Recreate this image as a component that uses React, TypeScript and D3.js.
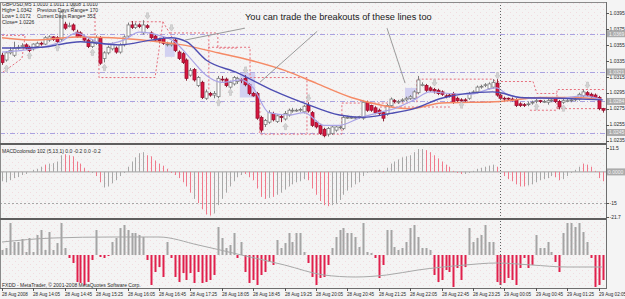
import React from 'react'
import * as d3 from 'd3'

const W = 625
const H = 299

// candles in pips above 1.0000 : [open, high, low, close]
const candles: number[][] = [
  [342,345,330,333],[336,347,334,345],[345,352,343,348],[342,359,340,351],[351,355,349,352],
  [353,357,351,354],[355,357,349,351],[352,354,346,348],[350,357,348,356],[353,359,351,357],
  [357,359,354,356],[356,366,355,364],[361,367,359,365],[365,366,360,362],[364,366,357,359],
  [362,398,360,396],[381,384,374,376],[379,383,377,379],[380,382,372,374],[371,374,364,365],
  [370,372,364,366],[365,367,359,361],[361,363,351,353],[353,362,351,359],[357,367,355,364],
  [364,366,330,332],[338,347,333,345],[345,354,343,352],[350,358,348,356],[351,353,344,346],
  [346,357,344,355],[355,367,353,365],[366,383,364,380],[380,385,375,377],[377,383,375,380],
  [380,382,376,378],[370,386,368,380],[379,381,375,377],[370,372,362,364],[366,368,359,361],
  [362,364,357,360],[363,365,355,357],[356,359,353,356],[355,360,353,357],[361,363,346,348],
  [346,348,336,338],[344,346,331,333],[336,338,310,313],[317,326,315,323],[324,326,309,311],
  [304,316,302,314],[308,310,287,289],[288,299,286,296],[294,296,290,292],[292,297,288,294],
  [290,316,288,313],[312,316,309,311],[312,314,302,304],[302,310,300,308],[306,316,304,314],
  [309,315,306,313],[311,313,307,310],[313,317,303,305],[305,307,292,294],[294,296,290,291],
  [294,296,261,263],[264,266,245,248],[255,262,252,260],[258,273,256,270],[269,271,259,261],
  [259,268,257,266],[265,267,258,264],[262,272,260,269],[267,275,265,273],[272,276,270,273],
  [273,275,271,273],[273,276,271,274],[271,280,269,278],[279,283,270,272],[270,272,252,254],
  [258,260,250,252],[254,256,242,244],[249,251,239,241],[243,252,240,250],[244,254,242,252],
  [248,254,246,252],[251,254,249,252],[250,266,248,264],[264,266,262,264],[264,266,262,264],
  [264,265,262,264],[264,266,262,265],[263,285,261,283],[283,285,271,273],[279,280,271,273],
  [276,278,268,270],[273,275,267,269],[270,272,259,263],[268,281,266,279],[279,289,277,287],
  [285,287,282,284],[283,286,281,284],[285,288,283,286],[286,290,284,288],[288,292,286,290],
  [288,298,286,296],[295,316,293,311],[305,308,303,305],[304,306,296,298],[301,303,296,298],
  [299,301,294,297],[298,300,292,294],[296,298,291,293],[291,293,288,290],[292,294,289,291],
  [294,296,281,283],[288,290,282,285],[286,288,283,285],[286,288,283,285],[288,296,286,294],
  [296,298,294,296],[296,304,294,302],[302,305,300,303],[304,307,302,305],[300,308,299,306],
  [302,312,300,308],[307,312,290,292],[292,294,286,288],[288,290,284,287],[288,289,285,287],
  [287,289,284,286],[286,288,277,279],[281,283,277,279],[280,282,277,279],[280,284,278,281],
  [282,285,280,283],[284,287,282,285],[285,286,282,284],[284,286,282,284],[283,287,280,285],
  [285,288,283,286],[288,289,282,284],[284,286,274,277],[283,287,281,285],[285,287,283,285],
  [285,288,283,286],[286,289,284,287],[287,295,285,293],[291,299,289,296],[295,297,290,292],
  [293,295,288,290],[292,294,287,289],[289,291,273,275],[275,276,270,273],
]

// moving averages: [bar, pips]
const maSlow = [[0,364],[8,361],[19,365],[28,364],[38,360],[46,355],[55,345],[63,336],[72,323],[80,307],[89,289],[97,279],[104,275],[112,282],[127,284],[137,289],[146,289],[153,286]]
const maMid = [[0,351],[10,352],[20,359],[30,355],[38,361],[43,364],[47,359],[52,336],[60,320],[69,298],[77,282],[86,267],[92,264],[99,269],[105,275],[112,288],[125,296],[127,295],[132,289],[142,288],[153,286]]
const maFast = [[0,346],[5,348],[10,352],[15,359],[19,370],[22,364],[26,356],[31,361],[35,371],[40,367],[44,359],[48,338],[52,317],[56,308],[61,311],[64,301],[68,270],[73,267],[77,270],[82,254],[86,254],[91,263],[96,270],[100,275],[105,286],[109,296],[114,294],[119,293],[126,301],[129,292],[135,288],[142,288],[148,291],[153,286]]

const levels = [369, 321, 284, 245]
const fractalsUp = [[1,326],[7,342],[14,352],[23,346],[26,327],[55,283],[58,296],[72,253],[117,280],[136,278],[143,276]]
const fractalsDown = [[18,404],[37,391],[43,376],[62,323],[78,288],[110,307],[126,316],[149,304]]
const shades = [[41.5,44,357,340],[60.6,64.5,320,289],[102.7,105.7,301,286]]
const rangeLines = [
  [[0,367],[5.9,367],[5.1,338],[0,320]],
  [[23.7,395],[23.7,365]],
  [[24.7,361],[24.7,314],[39,314],[41,384],[32.6,384]],
  [[41,384],[44,359]],
  [[42.8,370],[55,370],[55,351],[59.9,351]],
  [[52.7,367],[52.7,298]],
  [[52.5,352],[63.2,352],[63.2,314],[77.7,314],[77.7,244]],
  [[65.7,282],[65.7,243],[86.6,243],[86.6,282],[104,282]],
  [[105.7,283],[105.7,312],[125.1,312],[125.9,309],[135.3,309],[136.3,294],[141.4,294]],
  [[96.3,277],[114.1,277]],
  [[114.9,283],[125.1,283]],
  [[134.5,273],[141.4,273]],
  [[141.4,275],[141.4,299],[154,299]],
  [[141.4,275],[154,275]],
]
const noteLines = [[[46.6,361],[61.9,376]],[[80.3,372],[65.7,308]],[[98.1,376],[102.7,307]]]

const macd = [-4.5,-5,-4,-3,-2.5,-1.5,-1,0,1,1.5,2.5,3.5,4,4.2,5,8,8.5,8,7.5,5,4,2,0.5,-0.5,-2,-5,-7.5,-7,-5.5,-4,-2,-0.5,2.5,5,7,9,9.5,8,7.5,5.5,4,3,1.5,-0.5,-1.5,-3,-5,-7,-10,-13,-15,-18,-20.5,-21,-20,-16,-13,-10,-7,-4.5,-2.5,-1.5,-1,-2.5,-4,-8,-12,-13,-12.5,-12,-11,-10,-8.5,-7,-6,-5,-4.5,-3.5,-4,-8,-11,-14,-16,-16.5,-16,-15,-13.5,-11,-9,-7.5,-6,-5,-2,-0.5,0.5,0.8,1,0.5,2,4,5,6,7,7.5,8,9.5,11,11,10.5,9.5,8,6.5,5,3.5,2.5,0.5,-0.5,-1,-1,-0.5,0.5,1.5,2,2.5,3,3.5,2.5,0,-2,-3.5,-4.5,-6,-7,-7,-6.5,-6,-5,-4,-3.5,-3,-2,-2.5,-4,-3.5,-2,-0.5,1,2.5,4,3.5,2.5,0.5,-3,-4.5]
const macdDown = [0,0,0,0,0,0,0,0,0,0,0,1,0,0,0,0,1,1,1,1,1,1,1,0,1,1,0,0,0,0,0,0,0,0,0,0,0,1,1,1,1,1,1,1,1,1,1,1,1,0,1,1,1,1,0,0,0,0,0,0,0,0,1,1,1,1,1,1,0,1,0,0,0,0,0,0,0,0,1,1,1,1,1,1,0,0,0,0,0,0,0,0,0,0,0,0,0,1,0,0,0,0,0,0,0,0,0,0,1,1,1,1,1,1,1,1,1,1,0,0,0,0,0,0,0,0,1,1,1,1,1,1,1,1,0,0,0,0,0,0,0,1,1,0,0,0,0,0,1,1,1,1,1,1]

const osc = [5,7,32,13,13,16,3,17,3,20,25,5,23,5,12,32,7,-3,-8,-27,-28,-30,-27,-5,25,-2,-3,-1,13,17,27,30,25,22,22,20,18,-5,-30,-17,-12,-22,13,-3,-22,-27,-18,-25,-18,-28,-17,-28,-27,-25,-20,28,17,7,10,22,-3,13,-17,-28,-25,-30,-20,-17,-7,-10,15,7,12,22,13,22,22,3,-8,-22,-30,-23,-22,-10,7,18,25,27,22,22,18,8,32,3,2,-3,-23,-10,25,25,8,5,7,13,27,30,18,7,7,5,-20,-27,-25,-15,-17,-32,-13,-25,-12,27,13,17,20,30,13,13,-27,-30,-28,-23,-25,-30,-13,-3,-13,-10,20,7,7,13,3,-7,-17,22,32,32,28,32,23,13,-3,-32,-30,-25]
const oscLine = [[0,13],[13,17],[28,18],[40,18],[50,10],[61,0],[72,-10],[82,-20],[90,-22],[98,-20],[106,-15],[118,-10],[126,-8],[135,-10],[144,-12],[153,-12]]

const priceTicks = [1.0395, 1.0375, 1.0355, 1.0335, 1.0315, 1.0295, 1.0275, 1.0255, 1.0235]
const macdTicks = [11.5, -15, -21.7]
const timeLabels = ['28 Aug 2008','28 Aug 14:05','28 Aug 14:45','28 Aug 15:25','28 Aug 16:05','28 Aug 16:45','28 Aug 17:25','28 Aug 18:05','28 Aug 18:45','28 Aug 19:25','28 Aug 20:05','28 Aug 20:45','28 Aug 21:25','28 Aug 22:05','28 Aug 22:45','28 Aug 23:25','29 Aug 00:05','29 Aug 00:45','29 Aug 01:25','29 Aug 02:05']
const daySplitBar = 127

const pr = (p: number) => 1 + p / 10000

export default function App() {
  const x = d3.scaleLinear().domain([0, 153]).range([2, 602.5])
  const y = d3.scaleLinear().domain([1.0235, 1.0395]).range([140.5, 13])
  const ym = d3.scaleLinear().domain([-21.7, 11.5]).range([217, 148])
  const yo = d3.scaleLinear().domain([-33, 35]).range([288, 220])
  const cx = (i: number) => Math.round(x(i)) + 0.5

  const maLine = d3.line<number[]>().x(d => x(d[0])).y(d => y(pr(d[1]))).curve(d3.curveMonotoneX)
  const oLine = d3.line<number[]>().x(d => x(d[0])).y(d => yo(d[1])).curve(d3.curveMonotoneX)
  const poly = d3.line<number[]>().x(d => x(d[0])).y(d => y(pr(d[1])))

  const font = 'Liberation Sans, Arial, sans-serif'
  const small = { fontFamily: font, fontSize: 5, fill: '#2a2a2a' }

  const arrow = (px: number, py: number, up: boolean) => {
    const s = up ? -1 : 1
    return `M${px - 1},${py - 3.5 * s} h2 v${3 * s} h1.5 l-2.5,${3.5 * s} l-2.5,${-3.5 * s} h1.5 z`
  }

  return (
    <svg width={W} height={H} style={{ position: 'absolute', left: 0, top: 0, display: 'block' }}>
      <defs>
        <pattern id="dots" width="6" height="6" patternUnits="userSpaceOnUse">
          <rect x="0" y="0" width="1" height="1" fill="#f0bcc6" />
          <rect x="3" y="3" width="1" height="1" fill="#f0bcc6" />
        </pattern>
      </defs>
      <rect width={W} height={H} fill="#f4f4f4" />
      <rect x={0} y={2} width={606} height={286} fill="url(#dots)" opacity={0.45} />

      {/* main panel */}
      {levels.map(l => (
        <line key={l} x1={0} x2={606} y1={Math.round(y(pr(l))) + 0.5} y2={Math.round(y(pr(l))) + 0.5}
          stroke="#aaa2e0" strokeDasharray="5,2,1,2" />
      ))}
      {shades.map((s, i) => (
        <rect key={i} x={x(s[0])} width={x(s[1]) - x(s[0])} y={y(pr(s[2]))} height={y(pr(s[3])) - y(pr(s[2]))}
          fill="#c9c8f0" opacity={0.8} />
      ))}
      {rangeLines.map((r, i) => (
        <path key={i} d={poly(r) || ''} fill="none" stroke="#e66f7d" strokeDasharray="2,2" />
      ))}
      {candles.map((c, i) => {
        const [o, h, l, cl] = c
        const up = cl >= o
        const top = y(pr(Math.max(o, cl)))
        const bot = y(pr(Math.min(o, cl)))
        const xc = cx(i)
        return (
          <g key={i}>
            <line x1={xc} x2={xc} y1={y(pr(h))} y2={y(pr(l))} stroke={up ? '#7c7c7c' : '#8a2a3a'} />
            <rect x={xc - 1.5} width={3} y={top} height={Math.max(bot - top, 0.8)}
              fill={up ? '#ffffff' : '#d8163f'} stroke={up ? '#7c7c7c' : '#9a1030'} strokeWidth={0.8} />
          </g>
        )
      })}
      <path d={maLine(maSlow) || ''} fill="none" stroke="#f58a66" strokeWidth={1.5} />
      <path d={maLine(maFast) || ''} fill="none" stroke="#aba4e6" strokeWidth={1.2} />
      <path d={maLine(maMid) || ''} fill="none" stroke="#4e4eb2" strokeWidth={1.4} />
      {fractalsUp.map((f, i) => (
        <path key={'u' + i} d={arrow(cx(f[0]), y(pr(f[1])), true)} fill="#d4d4d4" stroke="#b8b8b8" strokeWidth={0.5} />
      ))}
      {fractalsDown.map((f, i) => (
        <path key={'d' + i} d={arrow(cx(f[0]), y(pr(f[1])), false)} fill="#d4d4d4" stroke="#b8b8b8" strokeWidth={0.5} />
      ))}
      {noteLines.map((n, i) => (
        <path key={i} d={poly(n) || ''} stroke="#9a9a9a" strokeWidth={1} fill="none" />
      ))}
      <text x={245} y={20} style={{ fontFamily: font, fontSize: 9.2, fill: '#1a1a1a' }}>
        You can trade the breakouts of these lines too
      </text>
      <text x={2} y={6} style={small}>GBPUSD,M5  1.0010 1.0011 1.0008 1.0010</text>
      <text x={2} y={12} style={small}>High= 1.0342</text>
      <text x={37} y={12} style={small}>Previous Days Range= 170</text>
      <text x={2} y={18} style={small}>Low= 1.0172</text>
      <text x={37} y={18} style={small}>Current Days Range= 353</text>
      <text x={2} y={24} style={small}>Close= 1.0226</text>

      {/* MACD panel */}
      <line x1={0} x2={606} y1={ym(0)} y2={ym(0)} stroke="#a0a0a0" />
      <line x1={0} x2={606} y1={Math.round(ym(-15)) + 0.5} y2={Math.round(ym(-15)) + 0.5} stroke="#a8a8a8" strokeDasharray="2,2" />
      {macd.map((v, i) => (
        <line key={i} x1={cx(i)} x2={cx(i)} y1={ym(0)} y2={ym(v)} stroke={macdDown[i] ? '#f07a8c' : '#a8a8a8'} />
      ))}
      <text x={2} y={153} style={small}>MACDcolorsdo 102 (5,13,1) 0.0 -0.2 0.0 -0.2</text>

      {/* oscillator panel */}
      {osc.map((v, i) => (
        <rect key={i} x={Math.round(x(i)) - 0.5} width={2} y={Math.min(yo(0), yo(v))} height={Math.abs(yo(v) - yo(0))}
          fill={v >= 0 ? '#a4a4a4' : '#e0204c'} />
      ))}
      <path d={oLine(oscLine) || ''} fill="none" stroke="#a8a8a8" strokeWidth={1} />
      <text x={2} y={287} style={small}>FXDD - MetaTrader, © 2001-2008 MetaQuotes Software Corp.</text>

      {/* day separator */}
      <line x1={cx(daySplitBar)} x2={cx(daySplitBar)} y1={2} y2={288} stroke="#606060" strokeDasharray="1,2" />

      {/* frames */}
      <line x1={0} x2={606} y1={2.5} y2={2.5} stroke="#8a8a8a" />
      <line x1={0.5} x2={0.5} y1={2} y2={288} stroke="#8a8a8a" />
      <rect x={0} y={143} width={607} height={2} fill="#5e5e5e" />
      <rect x={0} y={218} width={607} height={2} fill="#5e5e5e" />
      <line x1={0} x2={607} y1={288.5} y2={288.5} stroke="#6e6e6e" />
      <line x1={606.5} x2={606.5} y1={2} y2={289} stroke="#6e6e6e" />

      {/* price axis */}
      {priceTicks.map(t => (
        <g key={t}>
          <line x1={606} x2={609} y1={Math.round(y(t)) + 0.5} y2={Math.round(y(t)) + 0.5} stroke="#555" />
          <text x={609.5} y={y(t) + 1.8} style={small}>{t.toFixed(4)}</text>
        </g>
      ))}
      {levels.map(l => (
        <g key={l}>
          <rect x={607} y={y(pr(l)) - 3.5} width={18} height={7} fill="#ababab" />
          <text x={609} y={y(pr(l)) + 1.8} style={{ ...small, fill: '#f4f4f4' }}>{pr(l).toFixed(4)}</text>
        </g>
      ))}
      {macdTicks.map(t => (
        <g key={t}>
          <line x1={606} x2={609} y1={Math.round(ym(t)) + 0.5} y2={Math.round(ym(t)) + 0.5} stroke="#555" />
          <text x={609.5} y={ym(t) + 1.8} style={small}>{t}</text>
        </g>
      ))}
      <rect x={607} y={ym(0) - 3.5} width={18} height={7} fill="#ababab" />
      <text x={608} y={ym(0) + 1.8} style={{ ...small, fill: '#f4f4f4' }}>0.0000</text>

      {/* time axis */}
      {timeLabels.map((t, k) => (
        <g key={t}>
          <line x1={cx(k * 8)} x2={cx(k * 8)} y1={288} y2={291} stroke="#555" />
          <text x={cx(k * 8) - 0.5} y={296} style={{ ...small, fontSize: 4.6 }}>{t}</text>
        </g>
      ))}
    </svg>
  )
}
